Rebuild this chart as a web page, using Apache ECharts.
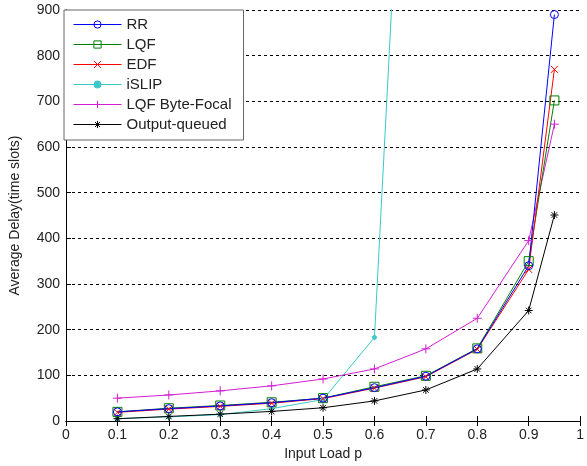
<!DOCTYPE html>
<html>
<head>
<meta charset="utf-8">
<script src="https://cdn.jsdelivr.net/npm/echarts@6/dist/echarts.min.js"></script>
<style>
  html, body { margin: 0; padding: 0; background: #fff; }
  #chart { width: 587px; height: 466px; }
</style>
</head>
<body>
<div id="chart"></div>
<script>
// input load values
const loads = [0.1, 0.2, 0.3, 0.4, 0.5, 0.6, 0.7, 0.8, 0.9, 0.95]

// average delay per scheduler
const rr = [20, 27, 33, 40, 50, 73, 98, 158, 340, 890]
const lqf = [20, 28, 34, 41, 50, 75, 99, 159, 350, 702]
const edf = [19, 26, 32, 39, 49, 72, 97, 157, 332, 770]
const islip = [5, 9, 14, 27, 47, 183, 2350]
const byteFocal = [50, 57, 66, 77, 92, 114, 158, 225, 395, 650]
const outputQueued = [5, 10, 15, 21, 29, 44, 68, 114, 242, 451]

const xTicks = ['0', '0.1', '0.2', '0.3', '0.4', '0.5', '0.6', '0.7', '0.8', '0.9', '1']

const FONT = "'Liberation Sans', Arial, sans-serif"

// marker shapes
const crossPath = 'path://M0,0L10,10M10,0L0,10'
const plusPath = 'path://M5,0L5,10M0,5L10,5'
const starPath = 'path://M5,0L5,10M0,5L10,5M1.5,1.5L8.5,8.5M8.5,1.5L1.5,8.5'

const pairs = (vals) => vals.map((v, i) => [loads[i], v])

const makeSeries = (name, vals, color, symbol, size, fill) => ({
  name: name,
  type: 'line',
  data: pairs(vals),
  symbol: symbol,
  symbolSize: size,
  showAllSymbol: true,
  clip: true,
  lineStyle: { color: color, width: 1 },
  itemStyle: { color: fill || color, borderColor: color, borderWidth: 1 },
  emphasis: { disabled: true }
})

const chart = echarts.init(document.getElementById('chart'))

chart.setOption({
  animation: false,
  textStyle: { fontFamily: FONT },
  grid: { left: 65, right: 2, top: 10, bottom: 45 },
  legend: {
    orient: 'vertical',
    left: 64,
    top: 10,
    padding: [7, 12, 8, 9],
    itemWidth: 48,
    itemHeight: 9,
    itemGap: 5,
    backgroundColor: '#fff',
    borderColor: '#666',
    borderWidth: 1,
    lineStyle: { width: 1 },
    itemStyle: { borderWidth: 1 },
    textStyle: { fontSize: 15, color: '#222', fontFamily: FONT },
    data: ['RR', 'LQF', 'EDF', 'iSLIP', 'LQF Byte-Focal', 'Output-queued']
  },
  xAxis: [{
    type: 'value',
    min: 0,
    max: 1,
    interval: 0.1,
    name: 'Input Load p',
    nameLocation: 'middle',
    nameGap: 24,
    nameTextStyle: { fontSize: 14, color: '#222' },
    axisLine: { lineStyle: { color: '#000' } },
    axisTick: { inside: true, length: 5, lineStyle: { color: '#000' } },
    axisLabel: {
      fontSize: 14, color: '#222', margin: 7,
      formatter: (v) => xTicks[Math.round(v * 10)]
    },
    splitLine: { show: false }
  }, {
    type: 'value',
    position: 'top',
    min: 0,
    max: 1,
    interval: 0.1,
    axisLine: { lineStyle: { color: '#000' } },
    axisTick: { inside: true, length: 5, lineStyle: { color: '#000' } },
    axisLabel: { show: false },
    splitLine: { show: false }
  }],
  yAxis: [{
    type: 'value',
    min: 0,
    max: 900,
    interval: 100,
    name: 'Average Delay(time slots)',
    nameLocation: 'middle',
    nameGap: 44,
    nameTextStyle: { fontSize: 14, color: '#222' },
    axisLine: { show: true, lineStyle: { color: '#000' } },
    axisTick: { show: true, inside: true, length: 5, lineStyle: { color: '#000' } },
    axisLabel: { fontSize: 14, color: '#222', margin: 6 },
    splitLine: { show: true, lineStyle: { color: '#000', type: [3, 3], width: 1 } }
  }, {
    type: 'value',
    position: 'right',
    min: 0,
    max: 900,
    interval: 100,
    axisLine: { show: true, lineStyle: { color: '#000' } },
    axisTick: { show: false },
    axisLabel: { show: false },
    splitLine: { show: false }
  }],
  series: [
    makeSeries('iSLIP', islip, '#3cc8c8', 'circle', 4),
    makeSeries('LQF Byte-Focal', byteFocal, '#d21ed2', plusPath, 9),
    makeSeries('Output-queued', outputQueued, '#000000', starPath, 8),
    makeSeries('LQF', lqf, '#008000', 'rect', 9, 'rgba(0,0,0,0)'),
    makeSeries('EDF', edf, '#ff0000', crossPath, 7),
    makeSeries('RR', rr, '#0000ff', 'circle', 8, 'rgba(0,0,0,0)')
  ]
})
</script>
</body>
</html>
